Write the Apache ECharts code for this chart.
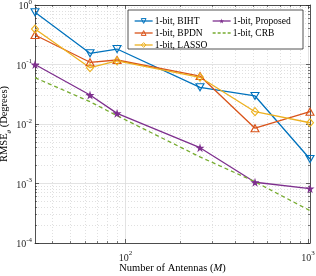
<!DOCTYPE html>
<html><head><meta charset="utf-8">
<script src="https://cdn.jsdelivr.net/npm/echarts@6/dist/echarts.min.js"></script>
<style>html,body{margin:0;padding:0;background:#fff}#c{width:316px;height:276px}</style>
</head><body><div id="c"></div>
<script>
const antennas = [32, 64, 90, 256, 512, 1024];
const biht     = [0.753, 0.154, 0.182, 0.0414, 0.0296, 0.00258];
const bpdn     = [0.313, 0.109, 0.119, 0.064, 0.0085, 0.0161];
const lasso    = [0.395, 0.0885, 0.115, 0.061, 0.0161, 0.0105];
const proposed = [0.100, 0.0307, 0.0151, 0.0040, 0.00105, 0.00082];
const crb      = [0.060, 0.0237, 0.0138, 0.0028, 0.00107, 0.00035];
const seriesNames = ['1-bit, BIHT', '1-bit, BPDN', '1-bit, LASSO', '1-bit, Proposed', '1-bit, CRB'];
const xMajorExp = [2, 3];
const yMajorExp = [-4, -3, -2, -1, 0];
const xMin = 32, xMax = 1024, yMin = 1e-4, yMax = 1;

const minorX = [], minorY = [];
for (let e = 1; e <= 3; e++) for (let k = 2; k <= 9; k++) {
  const v = Math.log10(k * Math.pow(10, e));
  if (v > Math.log10(xMin) && v < Math.log10(xMax)) minorX.push(v);
}
for (let e = -4; e < 0; e++) for (let k = 2; k <= 9; k++) minorY.push(Math.log10(k * Math.pow(10, e)));

const FONT = '"Liberation Serif", "DejaVu Serif", serif';
const AX = '#262626';
const rich = {
  b: {fontFamily: FONT, fontSize: 10, color: AX, lineHeight: 13, verticalAlign: 'bottom'},
  s: {fontFamily: FONT, fontSize: 7, color: AX, lineHeight: 13, verticalAlign: 'top'}
};
const fmtPow = v => '{b|10}{s|' + Math.round(v) + '}';
const lx0 = Math.log10(xMin), lx1 = Math.log10(xMax), ly0 = Math.log10(yMin), ly1 = Math.log10(yMax);

function gridAxis(dim, pos, major, minor, withLabels, lo, hi) {
  const arr = [];
  arr.push({
    type: 'value', min: lo, max: hi, position: pos, gridIndex: 0,
    axisLine: {show: true, onZero: false, lineStyle: {color: AX, width: 0.8}},
    axisTick: {show: true, inside: true, length: 4, customValues: major, lineStyle: {color: AX, width: 0.7}},
    axisLabel: withLabels ? {show: true, customValues: major, formatter: fmtPow, rich: rich, margin: dim === 'x' ? 7 : 3} : {show: false},
    splitLine: {show: withLabels, lineStyle: {color: '#dcdcdc', width: 0.8}}
  });
  arr.push({
    type: 'value', min: lo, max: hi, position: pos, gridIndex: 0,
    axisLine: {show: false, onZero: false},
    axisTick: {show: true, inside: true, length: 2, customValues: minor, lineStyle: {color: AX, width: 0.6}},
    axisLabel: {show: false},
    splitLine: {show: withLabels, lineStyle: {color: '#d2d2d2', width: 0.7, type: [1, 2]}}
  });
  return arr;
}

const xAxes = [{type: 'log', min: xMin, max: xMax, show: false, gridIndex: 0}]
  .concat(gridAxis('x', 'bottom', xMajorExp, minorX, true, lx0, lx1))
  .concat(gridAxis('x', 'top', xMajorExp, minorX, false, lx0, lx1));
const yAxes = [{type: 'log', min: yMin, max: yMax, show: false, gridIndex: 0}]
  .concat(gridAxis('y', 'left', yMajorExp, minorY, true, ly0, ly1))
  .concat(gridAxis('y', 'right', yMajorExp, minorY, false, ly0, ly1));

xAxes[1].name = '{n|Number of Antennas (}{i|M}{n|)}';
xAxes[1].nameLocation = 'middle';
xAxes[1].nameGap = 20;
xAxes[1].nameMoveOverlap = false;
xAxes[1].nameTextStyle = {rich: {n: {fontFamily: FONT, fontSize: 10.5, color: '#000'}, i: {fontFamily: FONT, fontSize: 10.5, fontStyle: 'italic', color: '#000'}}};
yAxes[1].name = '{n|RMSE}{sub|θ}{n| (Degrees)}';
yAxes[1].nameLocation = 'middle';
yAxes[1].nameGap = 22;
yAxes[1].nameMoveOverlap = false;
yAxes[1].nameTextStyle = {rich: {n: {fontFamily: FONT, fontSize: 10.5, color: '#000', lineHeight: 14, verticalAlign: 'top'}, sub: {fontFamily: FONT, fontSize: 7, fontStyle: 'italic', color: '#000', lineHeight: 14, verticalAlign: 'bottom'}}};

const star = 'path://M50,0 L61,35 L98,35 L68,57 L79,91 L50,70 L21,91 L32,57 L2,35 L39,35 Z';
const colors = ['#0072BD', '#D95319', '#EDB120', '#7E2F8E', '#77AC30'];
const values = [biht, bpdn, lasso, proposed, crb];
const symbols = ['triangle', 'triangle', 'diamond', star, 'none'];
const rot = [180, 0, 0, 0, 0];
const sizes = [[8, 7], [8, 7], [7, 8], 9, 0];

const series = values.map((vals, i) => ({
  name: seriesNames[i], type: 'line', xAxisIndex: 0, yAxisIndex: 0,
  data: antennas.map((m, j) => [m, vals[j]]),
  symbol: symbols[i], symbolRotate: rot[i], symbolSize: sizes[i], showSymbol: i !== 4,
  lineStyle: {color: colors[i], width: 1.3, type: i === 4 ? [4, 3] : 'solid'},
  itemStyle: i === 3 ? {color: colors[i]} : {color: 'rgba(255,255,255,0)', borderColor: colors[i], borderWidth: 1.1},
  emphasis: {disabled: true}, animation: false, z: 3
}));

const legendCommon = {
  orient: 'vertical', top: 11, itemWidth: 18, itemHeight: 6, itemGap: 2,
  textStyle: {fontFamily: FONT, fontSize: 9.5, color: '#000', padding: [0, 0, 0, -3]},
  selectedMode: false, z: 6
};
const legendItems = seriesNames.map((n, i) => i === 4
  ? {name: n, itemStyle: {opacity: 0}, lineStyle: {type: [3, 2], width: 1.3}}
  : {name: n, lineStyle: {width: 1.3}, itemStyle: i === 3 ? {} : {borderWidth: 1}});
const option = {
  backgroundColor: '#fff',
  animation: false,
  color: colors,
  grid: {left: 35, right: 6, top: 5, bottom: 33, containLabel: false, outerBoundsMode: 'none'},
  xAxis: xAxes, yAxis: yAxes,
  legend: [
    Object.assign({}, legendCommon, {left: 129, data: legendItems.slice(0, 3)}),
    Object.assign({}, legendCommon, {left: 207, data: legendItems.slice(3)})
  ],
  graphic: [{type: 'rect', shape: {x: 128, y: 10, width: 175, height: 39}, style: {fill: '#fff', stroke: AX, lineWidth: 0.8}, z: 5}],
  series: series
};
const chart = echarts.init(document.getElementById('c'), null, {renderer: 'canvas'});
chart.setOption(option);
</script></body></html>
